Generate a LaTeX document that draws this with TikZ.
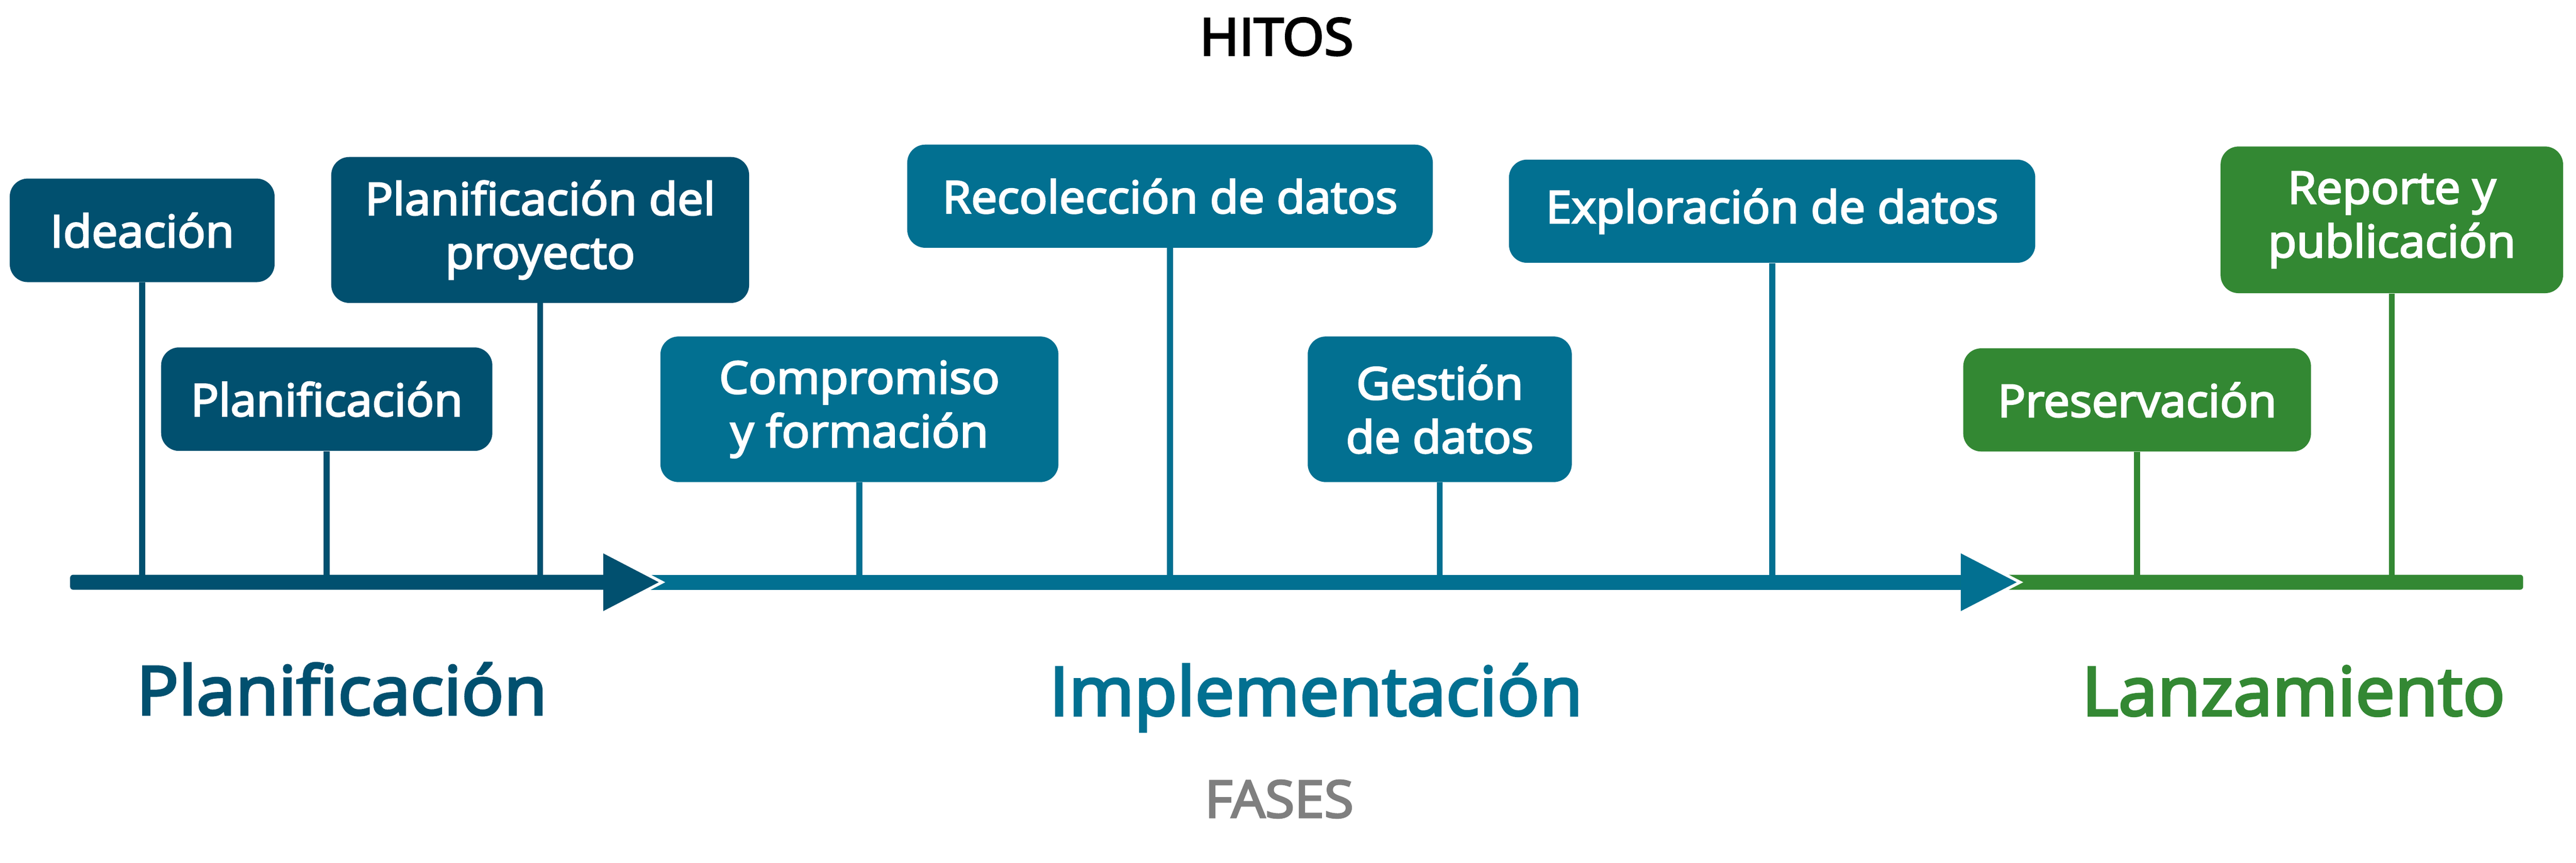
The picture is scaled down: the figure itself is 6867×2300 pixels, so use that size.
\documentclass[tikz,border=0pt]{standalone}
\usepackage{fontspec}
\newfontfamily\opensb{Open Sans}[FakeBold=3.5,FakeStretch=1.04,Ligatures=NoCommon]
\usepackage{tikz}
\usepackage{xcolor}
\definecolor{planc}{HTML}{01506F}
\definecolor{implc}{HTML}{027091}
\definecolor{lanzc}{HTML}{338833}
\definecolor{fasec}{HTML}{7F7F7F}

\begin{document}
\begin{tikzpicture}[x=0.1mm,y=-0.1mm,
		                    hito node/.style={rounded corners=4.8mm,inner sep=0pt,align=center,text=white,
		                      font=\opensb\fontsize{33.9}{40.7}\selectfont},
		                    fase node/.style={anchor=base,font=\opensb\fontsize{51.2}{61}\selectfont},
		                    title node/.style={anchor=base,font=\opensb\fontsize{39}{47}\selectfont},
		                    hito line/.style={line width=1.6mm}]
			\useasboundingbox (0,0) rectangle (6867,2300);
			\fill[white] (0,0) rectangle (6867,2300);
			% Nodes
			  \node[hito node,fill=planc,minimum width=70.6mm,minimum height=27.6mm] (ide) at (379,614) {Ideación};
			  \node[hito node,fill=planc,minimum width=88.3mm,minimum height=27.6mm] (plan) at (871,1064) {Planificación};
			  \node[hito node,fill=planc,minimum width=111.4mm,minimum height=38.9mm] (proy) at (1440,613) {Planificación del\\proyecto};
			  \node[hito node,fill=implc,minimum width=106.1mm,minimum height=38.8mm] (comp) at (2291,1091) {Compromiso\\y formación};
			  \node[hito node,fill=implc,minimum width=140.1mm,minimum height=27.5mm] (reco) at (3119,523) {Recolección de datos};
			  \node[hito node,fill=implc,minimum width=70.4mm,minimum height=38.8mm] (gest) at (3838,1091) {Gestión\\de datos};
			  \node[hito node,fill=implc,minimum width=140.3mm,minimum height=27.5mm] (expl) at (4724,563) {Exploración de datos};
			  \node[hito node,fill=lanzc,minimum width=92.7mm,minimum height=27.5mm] (pres) at (5697,1066) {Preservación};
			  \node[hito node,fill=lanzc,minimum width=91.3mm,minimum height=39.1mm] (repo) at (6376,586) {Reporte y\\publicación};

			  \node[title node] (hitos) at (3403,147) {HITOS};
			  \node[fase node,text=planc] (fplan) at (911,1905) {Planificación};
			  \node[fase node,text=implc] (fimpl) at (3508,1907) {Implementación};
			  \node[fase node,text=lanzc] (flanz) at (6114,1907) {Lanzamiento};
			  \node[title node,text=fasec] (fases) at (3410,2179) {FASES};
			  \coordinate (eje) at (0,1552);

			% Edges
			  \draw[hito line,planc] (ide) -- (ide |- eje);
			  \draw[hito line,planc] (plan) -- (plan |- eje);
			  \draw[hito line,planc] (proy) -- (proy |- eje);
			  \draw[hito line,implc] (comp) -- (comp |- eje);
			  \draw[hito line,implc] (reco) -- (reco |- eje);
			  \draw[hito line,implc] (gest) -- (gest |- eje);
			  \draw[hito line,implc] (expl) -- (expl |- eje);
			  \draw[hito line,lanzc] (pres) -- (pres |- eje);
			  \draw[hito line,lanzc] (repo) -- (repo |- eje);

			% Axis
			  \fill[implc] (1608,1532) rectangle (5240,1572);
			  \fill[lanzc,rounded corners=0.8mm] (5227,1532) -- (6726,1532) -- (6726,1572) -- (5227,1572) -- cycle;
			  \draw[white,line width=1.6mm,line join=miter] (1608,1475) -- (1756,1552) -- (1608,1629);
			  \fill[planc] (1608,1475) -- (1756,1552) -- (1608,1629) -- cycle;
			  \draw[white,line width=1.6mm,line join=miter] (5227,1475) -- (5376,1552) -- (5227,1629);
			  \fill[implc] (5227,1475) -- (5376,1552) -- (5227,1629) -- cycle;
			  \fill[planc,rounded corners=0.8mm] (187,1532) -- (1620,1532) -- (1620,1572) -- (187,1572) -- cycle;
			\end{tikzpicture}
\end{document}
